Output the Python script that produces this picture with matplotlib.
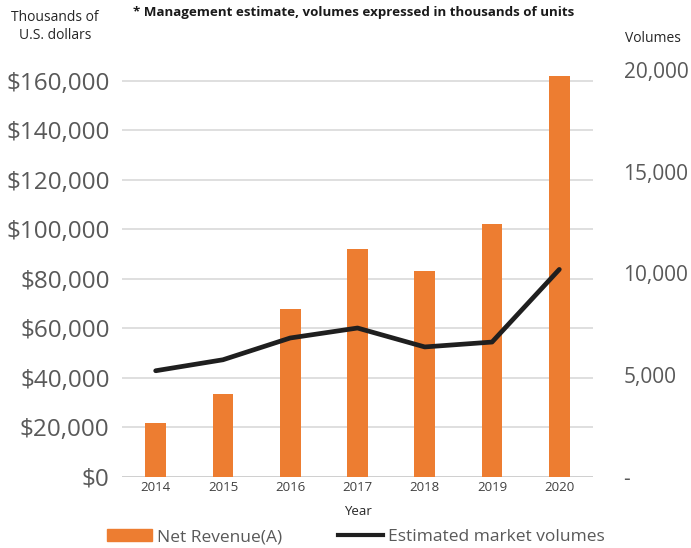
"""Net revenue bars with estimated market volumes on a secondary axis."""

import matplotlib

matplotlib.use("Agg")

import matplotlib.pyplot as plt
from matplotlib.lines import Line2D
from matplotlib.patches import Patch
from matplotlib.ticker import FuncFormatter

years = ["2014", "2015", "2016", "2017", "2018", "2019", "2020"]
net_revenue = [22000, 33500, 68000, 92000, 83000, 102000, 162000]
market_volumes = [5220, 5760, 6830, 7320, 6390, 6630, 10200]
revenue_ticks = [0, 20000, 40000, 60000, 80000, 100000, 120000, 140000, 160000]
volume_ticks = [0, 5000, 10000, 15000, 20000]

ORANGE = "#ed7d31"
LINE = "#1f1f1f"
GREY = "#595959"

plt.rcParams["font.family"] = ["Open Sans", "DejaVu Sans"]

fig = plt.figure(figsize=(6.91, 5.48), dpi=100)
ax = fig.add_axes([0.1766, 0.1296, 0.6815, 0.7427])
ax2 = ax.twinx()

x = list(range(len(years)))
ax.bar(x, net_revenue, width=0.31, color=ORANGE, zorder=2)
ax2.plot(x, market_volumes, color=LINE, lw=3.4, solid_capstyle="round", zorder=3)

ax.set_xlim(-0.5, len(years) - 0.5)
ax.set_ylim(0, 164400)
ax2.set_ylim(0, 20000)

ax.set_yticks(revenue_ticks)
ax.yaxis.set_major_formatter(FuncFormatter(lambda v, _: f"${v:,.0f}"))
ax2.set_yticks(volume_ticks)
ax2.yaxis.set_major_formatter(FuncFormatter(lambda v, _: "-" if v == 0 else f"{v:,.0f}"))

ax.set_xticks(x)
ax.set_xticklabels(years)

ax.grid(axis="y", color="#d9d9d9", lw=1.2, zorder=0)
ax.set_axisbelow(True)

for a in (ax, ax2):
    for side in ("top", "left", "right", "bottom"):
        a.spines[side].set_visible(False)
ax.axhline(0, color="#d0d0d0", lw=1.4, zorder=1)

ax.tick_params(axis="y", length=0, pad=9, labelsize=17.5, labelcolor=GREY)
ax2.tick_params(axis="y", length=0, pad=22, labelsize=15, labelcolor=GREY)
ax.tick_params(axis="x", length=0, pad=3, labelsize=9.5, labelcolor="#404040")

ax.set_xlabel("Year", fontsize=9.5, color="#262626", labelpad=8)

fig.text(0.512, 0.978, "* Management estimate, volumes expressed in thousands of units",
         ha="center", va="center", fontsize=9.6, fontweight="bold", color="#1a1a1a")
fig.text(0.08, 0.952, "Thousands of\nU.S. dollars", ha="center", va="center",
         fontsize=10, color="#262626", linespacing=1.3)
fig.text(0.945, 0.93, "Volumes", ha="center", va="center", fontsize=10, color="#262626")

handles = [Patch(color=ORANGE), Line2D([0], [0], color=LINE, lw=3)]
fig.legend(handles, ["Net Revenue(A)", "Estimated market volumes"], loc="center",
           bbox_to_anchor=(0.515, 0.02), ncol=2, frameon=False, fontsize=12.5,
           labelcolor="#595959", handlelength=2.6, handleheight=0.7,
           columnspacing=3.2, handletextpad=0.3)

fig.savefig("out.png", dpi=100, facecolor="white")
